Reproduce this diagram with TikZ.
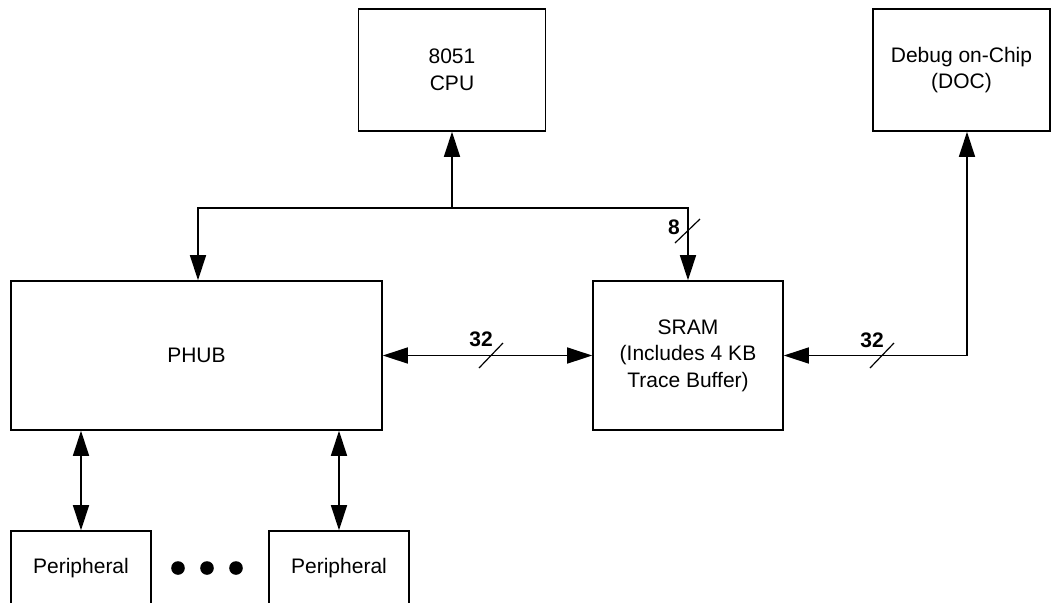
\documentclass[tikz,border=0pt]{standalone}
\usepackage{fontspec}
\setmainfont{Liberation Sans}
\usetikzlibrary{arrows.meta, positioning}

\begin{document}
\begin{tikzpicture}[
      x=0.5pt, y=-0.5pt,
      box/.style={rectangle, draw, line width=0.8pt, inner sep=0pt,
                  font=\fontsize{10.5}{13.3}\selectfont, align=center},
      arr/.style={-{Triangle[length=12.5pt, width=8pt]}, line width=0.8pt},
      arrboth/.style={{Triangle[length=12.5pt, width=8pt]}-{Triangle[length=12.5pt, width=8pt]}, line width=0.8pt},
      width/.style={font=\bfseries\fontsize{10.5}{12}\selectfont, inner sep=0pt},
      tick/.style={line width=0.6pt}
    ]
    \useasboundingbox (0,0) rectangle (1051,602);
    \node[box, minimum width=93.5pt, minimum height=61pt] (cpu) at (452,70) {8051\\CPU};
    \node[box, minimum width=88.5pt, minimum height=61pt] (doc) at (961.5,70) {Debug on-Chip\\(DOC)};
    \node[box, minimum width=185.5pt, minimum height=74.5pt] (phub) at (196.5,355.5) {PHUB};
    \node[box, minimum width=95pt, minimum height=74.5pt] (sram) at (688,355.5) {SRAM\\(Includes 4 KB\\Trace Buffer)};
    \node[box, minimum width=70pt, minimum height=37pt] (per1) at (81,568) {Peripheral};
    \node[box, minimum width=70pt, minimum height=37pt] (per2) at (339,568) {Peripheral};
    \foreach \dx in {178,207,236}
      \fill (\dx,568) circle (3.4pt);
    \coordinate (tap) at (452,208);
    \coordinate (busL) at (198,208);
    \coordinate (busR) at (688,208);
    \coordinate (turn) at (967,355.5);
    \draw[arr] (tap) -- (tap |- cpu.south);
    \draw[arr] (tap) -- (busL) -- (busL |- phub.north);
    \draw[arr] (tap) -- (busR) -- (sram.north);
    \draw[arrboth] (phub.east) -- (sram.west);
    \draw[arrboth] (sram.east) -- (turn) -- (turn |- doc.south);
    \draw[arrboth] (per1.north) -- (per1.north |- phub.south);
    \draw[arrboth] (per2.north) -- (per2.north |- phub.south);
    \draw[tick] (675,243) -- (700,219);
    \draw[tick] (479,368) -- (503,343);
    \draw[tick] (870,368) -- (894,343);
    \node[width] (w8) at (674,227.5) {8};
    \node[width] (w32a) at (481,339.5) {32};
    \node[width] (w32b) at (872,340) {32};
  \end{tikzpicture}
\end{document}
